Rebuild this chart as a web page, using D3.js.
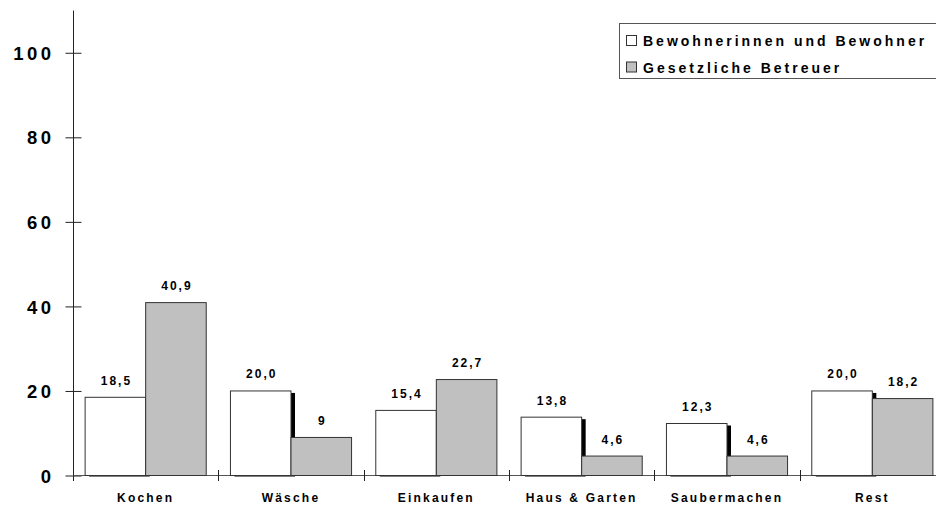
<!DOCTYPE html>
<html>
<head>
<meta charset="utf-8">
<script src="https://cdn.jsdelivr.net/npm/d3@7"></script>
<style>
  html, body { margin: 0; padding: 0; background: #fff; }
  svg { display: block; font-family: "Liberation Sans", Arial, sans-serif; font-weight: bold; }
</style>
</head>
<body>
<svg id="chart" width="936" height="506"></svg>
<script>
// Tasks and the share (in %) named by each group
const categories = ["Kochen", "Wäsche", "Einkaufen", "Haus & Garten", "Saubermachen", "Rest"];
const seriesNames = ["Bewohnerinnen und Bewohner", "Gesetzliche Betreuer"];
const residents = [18.5, 20.0, 15.4, 13.8, 12.3, 20.0];
const guardians = [40.9, 9, 22.7, 4.6, 4.6, 18.2];
const residentLabels = ["18,5", "20,0", "15,4", "13,8", "12,3", "20,0"];
const guardianLabels = ["40,9", "9", "22,7", "4,6", "4,6", "18,2"];
const yTicks = [0, 20, 40, 60, 80, 100];

const fills = ["#ffffff", "#c0c0c0"];
const svg = d3.select("#chart");

const x = d3.scaleBand().domain(categories).range([73, 945]).paddingInner(0).paddingOuter(0);
const inner = d3.scaleBand().domain(seriesNames).range([0, x.bandwidth()]).paddingInner(0).paddingOuter(0.2);
const y = d3.scaleLinear().domain([0, 110]).range([475.5, 10.5]);

const rows = categories.map((c, i) => ({
  cat: c,
  values: [
    { s: seriesNames[0], v: residents[i], label: residentLabels[i], k: 0 },
    { s: seriesNames[1], v: guardians[i], label: guardianLabels[i], k: 1 }
  ]
}));

// y axis with ticks crossing the line
const yAxis = svg.append("g")
  .attr("transform", "translate(73.5,0)")
  .call(d3.axisLeft(y).tickValues(yTicks).tickSize(8).tickFormat(d3.format("d")));
yAxis.select(".domain").remove();
yAxis.selectAll(".tick line").attr("x1", -8).attr("x2", 8).attr("stroke", "#222");
yAxis.selectAll(".tick text")
  .attr("x", -19)
  .attr("dy", "0.36em")
  .style("font-size", "18.5px")
  .style("font-weight", "bold")
  .style("font-family", "'Liberation Sans', Arial, sans-serif")
  .style("letter-spacing", "3.5px")
  .attr("fill", "#000");
svg.append("line")
  .attr("x1", 73.5).attr("x2", 73.5)
  .attr("y1", y(110)).attr("y2", y(0) + 5.5)
  .attr("stroke", "#222");

// x axis baseline
svg.append("line")
  .attr("x1", 73.5).attr("x2", 945)
  .attr("y1", y(0)).attr("y2", y(0))
  .attr("stroke", "#555");

// group separators on the x axis
svg.selectAll(".sep")
  .data(categories.slice(1))
  .join("line")
  .attr("x1", d => Math.round(x(d)) + 0.5)
  .attr("x2", d => Math.round(x(d)) + 0.5)
  .attr("y1", y(0) - 5.5)
  .attr("y2", y(0) + 5.5)
  .attr("stroke", "#222");

const groups = svg.selectAll(".grp")
  .data(rows)
  .join("g")
  .attr("transform", d => `translate(${x(d.cat)},0)`);

// drop shadow behind the resident bars
groups.append("rect")
  .attr("x", d => inner(seriesNames[0]) + 4)
  .attr("y", d => y(d.values[0].v) + 2)
  .attr("width", inner.bandwidth())
  .attr("height", d => y(0) - y(d.values[0].v) - 1)
  .attr("fill", "#000");

// bars
groups.selectAll(".bar")
  .data(d => d.values)
  .join("rect")
  .attr("x", d => inner(d.s))
  .attr("y", d => y(d.v))
  .attr("width", inner.bandwidth())
  .attr("height", d => y(0) - y(d.v))
  .attr("fill", d => fills[d.k])
  .attr("stroke", "#333")
  .attr("stroke-width", 1);

// value labels
groups.selectAll(".val")
  .data(d => d.values)
  .join("text")
  .attr("x", d => inner(d.s) + inner.bandwidth() / 2 + 1)
  .attr("y", d => y(d.v) - 12.5)
  .attr("text-anchor", "middle")
  .style("font-size", "12px")
  .style("letter-spacing", "2px")
  .attr("fill", "#000")
  .text(d => d.label);

// category labels
svg.selectAll(".cat")
  .data(categories)
  .join("text")
  .attr("x", d => x(d) + x.bandwidth() / 2)
  .attr("y", y(0) + 26)
  .attr("text-anchor", "middle")
  .style("font-size", "12px")
  .style("letter-spacing", "2.2px")
  .attr("fill", "#000")
  .text(d => d);

// legend
const legend = svg.append("g");
legend.append("rect")
  .attr("x", 619.5).attr("y", 23.5)
  .attr("width", 330).attr("height", 55)
  .attr("fill", "#fff")
  .attr("stroke", "#555");
const items = legend.selectAll(".item")
  .data(seriesNames)
  .join("g")
  .attr("transform", (d, i) => `translate(0,${i * 26.5})`);
items.append("rect")
  .attr("x", 626.5).attr("y", 35.5)
  .attr("width", 10).attr("height", 10)
  .attr("fill", (d, i) => fills[i])
  .attr("stroke", "#333");
items.append("text")
  .attr("x", 643)
  .attr("y", 46)
  .style("font-size", "14px")
  .style("letter-spacing", "3px")
  .attr("fill", "#000")
  .text(d => d);
</script>
</body>
</html>
